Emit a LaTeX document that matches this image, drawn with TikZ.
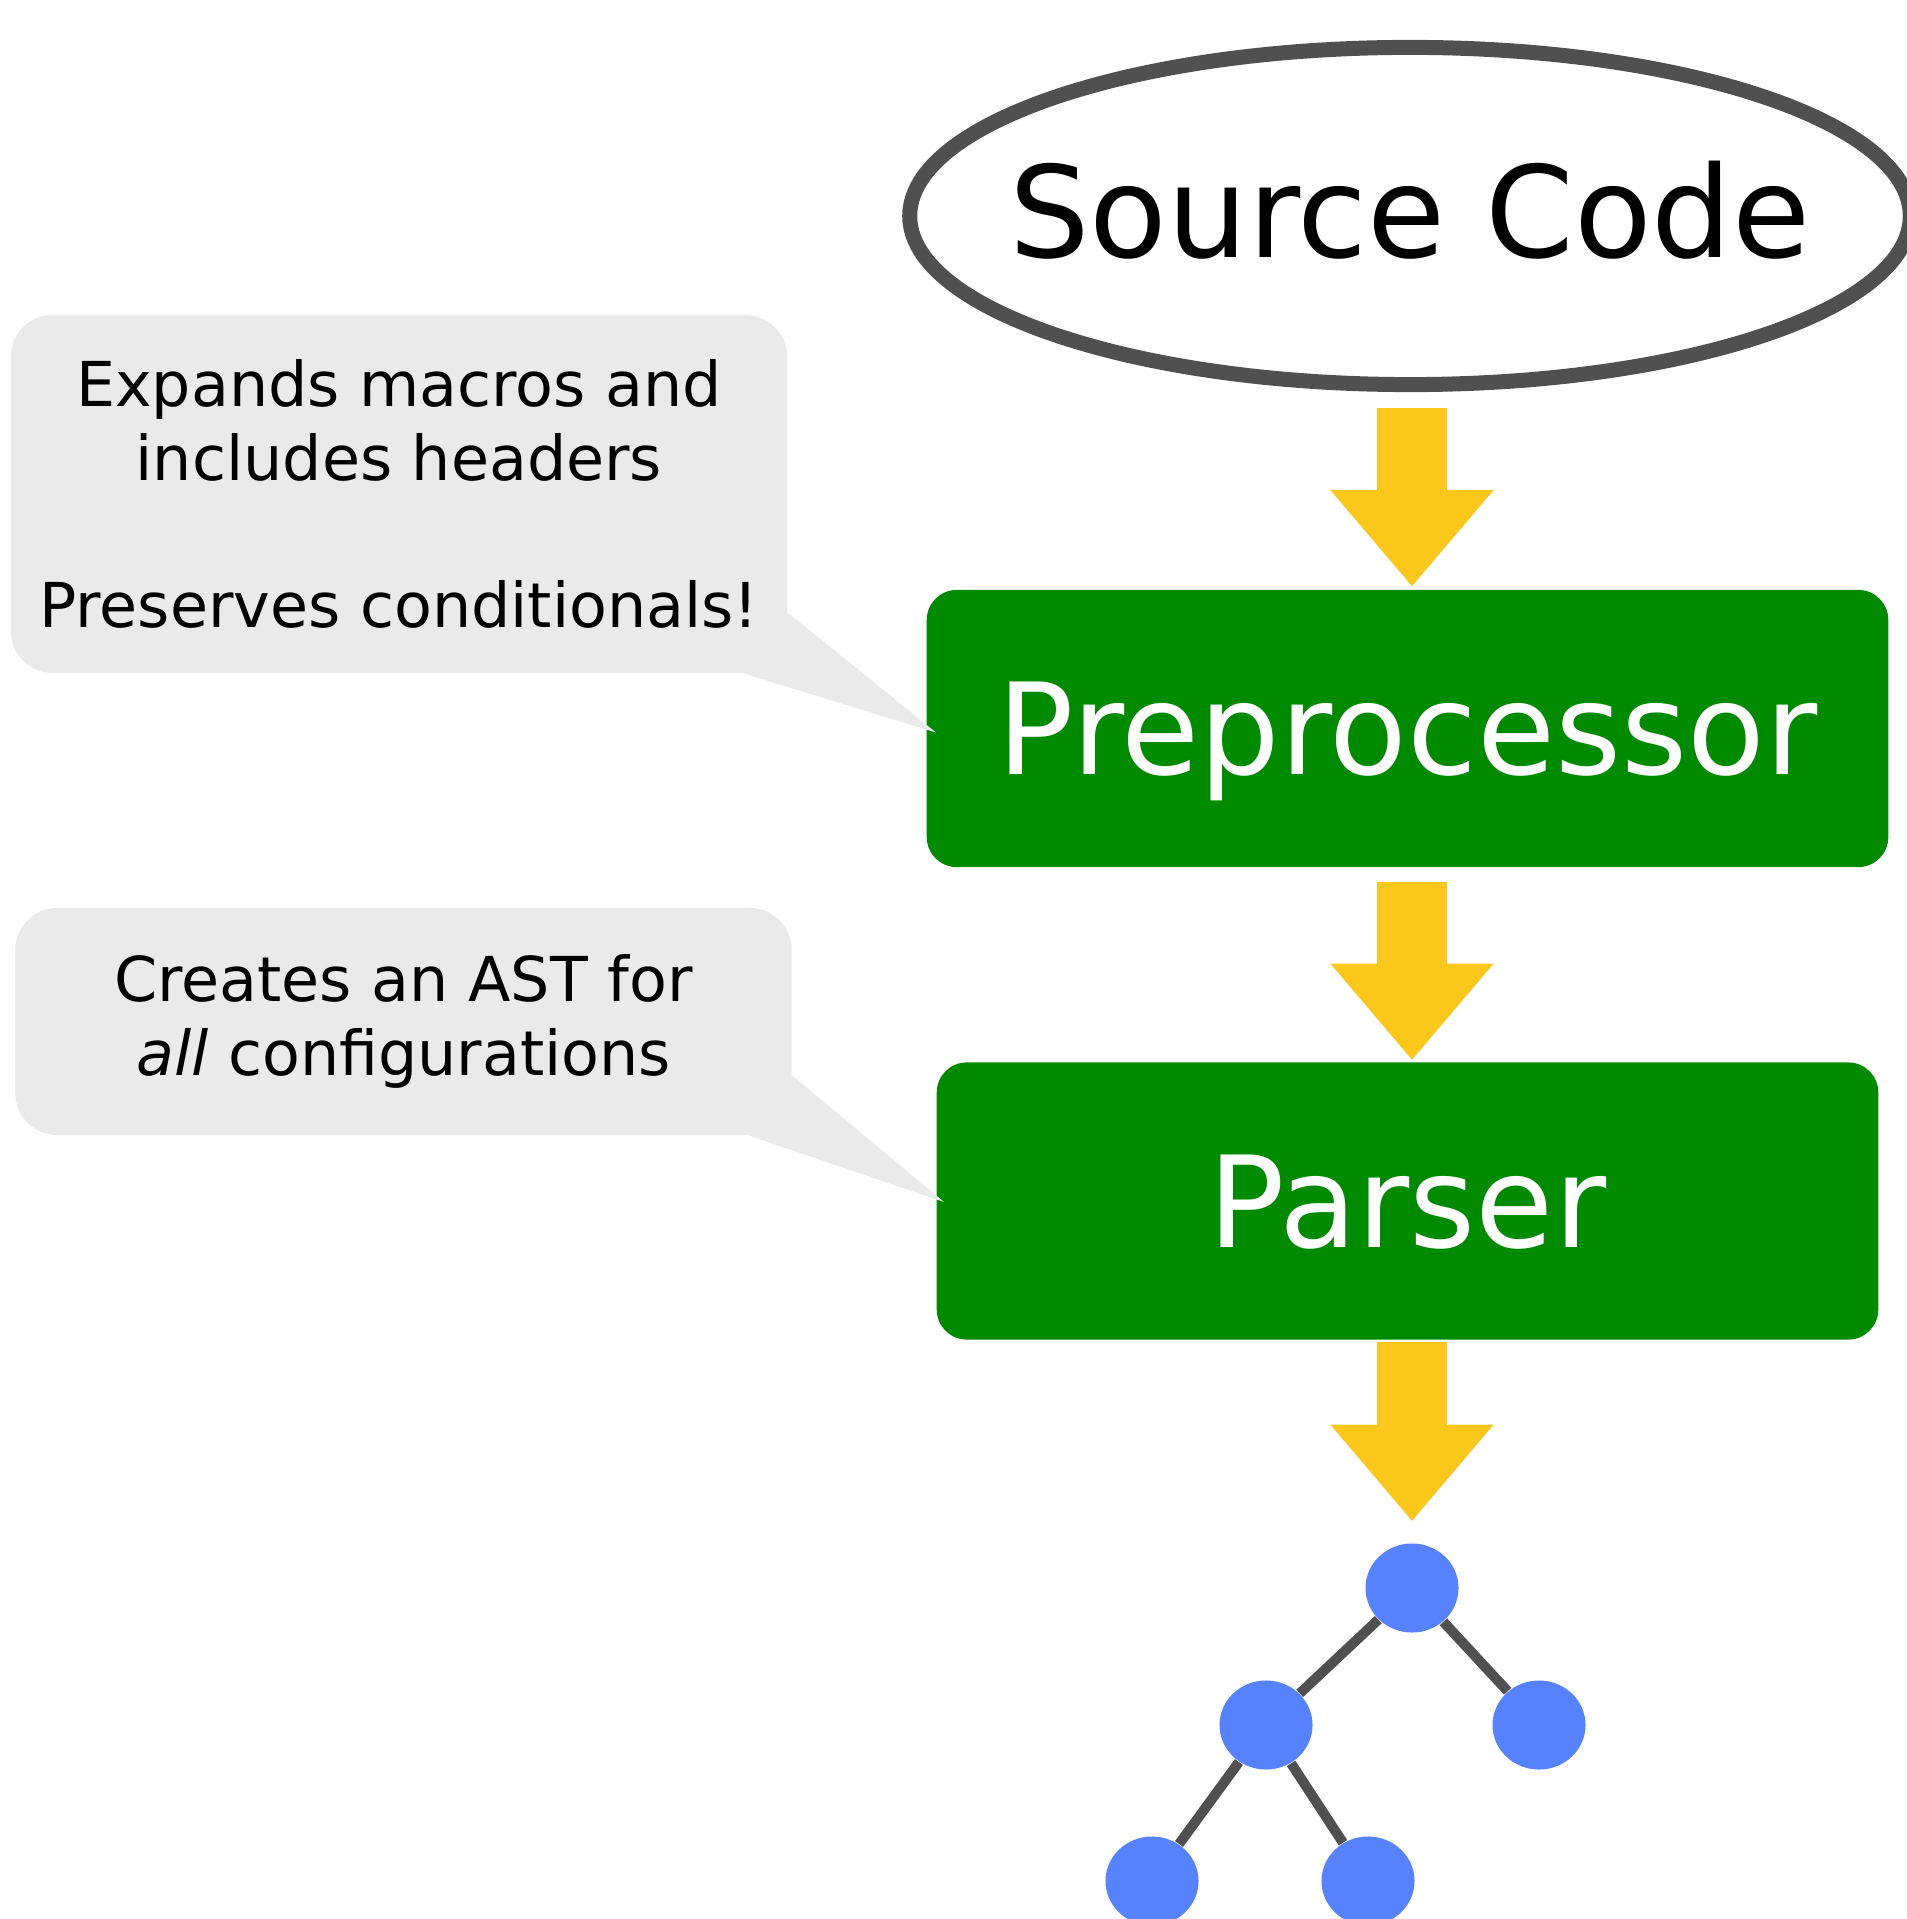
\documentclass[tikz,border=0pt]{standalone}
\usepackage{fontspec}
\setmainfont{DejaVu Sans}
\usetikzlibrary{shapes.geometric,arrows.meta,calc}
\definecolor{boxgreen}{RGB}{0,138,0}
\definecolor{flowyellow}{RGB}{252,199,27}
\definecolor{notegrey}{RGB}{234,234,234}
\definecolor{edgegrey}{RGB}{80,80,80}
\definecolor{treeblue}{RGB}{87,130,255}

\begin{document}
\begin{tikzpicture}[x=0.01cm, y=-0.01cm,
  big/.style={font=\fontsize{36.1}{43}\selectfont},
  stage/.style={big, fill=boxgreen, text=white, rounded corners=0.3cm, minimum height=2.77cm, text depth=0pt},
  note/.style={fill=notegrey, rounded corners=0.42cm, align=center, minimum width=7.76cm, font=\fontsize{17.6}{21}\selectfont},
  flow/.style={draw=flowyellow, line width=0.7cm, -{Triangle[width=1.63cm,length=0.96cm,line width=0pt]}},
  leaf/.style={ellipse, fill=treeblue, minimum width=0.93cm, minimum height=0.89cm, inner sep=0pt},
  branch/.style={draw=edgegrey, line width=0.1cm}]
\useasboundingbox (0,0) rectangle (1907,1919);
\node[ellipse, draw=edgegrey, line width=0.15cm, minimum width=10cm, minimum height=3.37cm, label={[big,yshift=0.06cm]center:Source Code}] (src) at (1410,216) {};
\node[stage, minimum width=9.61cm] (pre) at (1407.5,728.5) {Preprocessor};
\node[stage, minimum width=9.41cm] (parse) at (1407.5,1201) {Parser};

\node[note, minimum height=3.58cm] (n1) at (399,494) {Expands macros and\\includes headers\\[21pt]Preserves conditionals!};
\fill[notegrey] ($(n1.south east)+(0,-61)$) -- ($(pre.west)+(10,4)$) -- ($(n1.south east)+(-43,0)$) -- cycle;
\node[note, minimum height=2.27cm] (n2) at (403.5,1021.5) {Creates an AST for\\\textit{all} configurations};
\fill[notegrey] ($(n2.south east)+(0,-60)$) -- ($(parse.west)+(8,1)$) -- ($(n2.south east)+(-43,0)$) -- cycle;

\node[leaf] (r) at (1412,1588) {};
\node[leaf] (a) at (1266,1725) {};
\node[leaf] (b) at (1539,1725) {};
\node[leaf] (c) at (1152,1881) {};
\node[leaf] (d) at (1368,1881) {};
\draw[branch] (r) edge (a);
\draw[branch] (r) edge (b);
\draw[branch] (a) edge (c);
\draw[branch] (a) edge (d);

\draw[flow] ($(src.south -| r)+(0,16)$) -- ($(pre.north -| r)+(0,-3)$);
\draw[flow] ($(pre.south -| r)+(0,14)$) -- ($(parse.north -| r)+(0,-2)$);
\draw[flow] ($(parse.south -| r)+(0,2)$) -- ($(r.north)+(0,-22)$);
\end{tikzpicture}
\end{document}
